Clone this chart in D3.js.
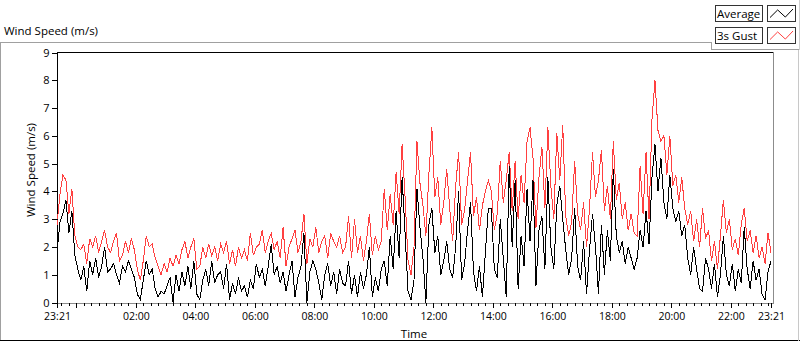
<!DOCTYPE html>
<html><head><meta charset="utf-8">
<script src="https://cdn.jsdelivr.net/npm/d3@7"></script>
<style>
html,body{margin:0;padding:0;background:#fff;}
svg{display:block;}
text{font-family:"Open Sans",sans-serif;fill:#000;}
</style></head><body>
<svg id="chart" width="800" height="342"></svg>
<script>
const chartTitle = "Wind Speed (m/s)";
const yAxisTitle = "Wind Speed (m/s)";
const xAxisTitle = "Time";
const seriesNames = ["Average", "3s Gust"];
const seriesColors = ["#000000", "#ff4040"];
const stepMinutes = 6;
const yTicks = [0,1,2,3,4,5,6,7,8,9];
const xTickLabels = ["23:21","02:00","04:00","06:00","08:00","10:00","12:00","14:00","16:00","18:00","20:00","22:00","23:21"];

const avgSpeed = [
1.8,2.9,3.2,3.7,2.5,3.3,1.7,1.2,0.8,1.3, 0.4,1.5,1.0,1.6,0.9,1.3,2.0,1.1,1.2,1.4,
1.0,0.7,1.3,1.1,1.5,1.2,0.9,0.3,0.1,0.8, 1.5,1.0,1.2,0.5,0.2,0.4,0.3,0.6,0.9,0.0,
1.0,0.4,1.1,0.6,1.3,0.5,1.5,0.3,
0.1,0.8,1.2,0.6,1.5,0.7,1.0,1.1,0.5,1.4, 0.1,0.7,0.3,0.9,0.4,0.6,0.2,0.8,0.5,1.4,
0.9,1.2,0.6,1.3,2.1,1.0,1.3,0.7,1.1,0.4, 1.0,1.5,0.2,0.9,1.3,2.5,0.0,1.1,1.5,1.2,
0.7,0.1,1.0,1.4,0.6,1.1,0.3,1.2,0.7,
0.6,1.5,0.3,1.0,0.2,1.1,0.5,1.0,2.0,0.2, 0.9,0.4,1.2,1.5,0.6,2.4,1.2,3.3,1.6,4.5,
2.5,0.4,0.1,0.8,4.1,2.7,1.6,0.0,2.8,3.4, 1.8,2.4,1.0,1.5,2.2,1.2,0.9,2.0,4.0,0.8,
1.4,2.6,3.6,1.1,0.4,1.3,0.2,1.8,3.4,
3.4,1.2,0.9,3.0,1.6,0.2,4.9,2.0,4.4,0.5, 2.4,1.3,4.1,2.2,4.4,0.6,2.6,3.1,1.2,4.5,
2.0,1.2,3.5,4.2,3.0,1.9,1.0,1.6,3.4,1.3, 0.8,2.2,0.3,1.9,3.2,2.0,0.3,2.8,1.0,2.6,
1.5,4.8,2.4,1.8,2.2,1.4,2.0,1.6,1.2,
1.6,2.6,2.0,3.3,2.1,4.5,5.7,4.0,5.2,3.6, 3.0,4.6,3.4,2.9,3.3,2.4,2.8,1.6,1.0,2.0,
1.2,0.5,0.4,1.6,1.2,0.5,1.4,0.2,1.0,2.4, 1.0,0.6,1.4,0.4,1.2,0.7,2.7,1.2,0.5,1.5,
0.8,1.2,0.3,0.1,1.1,1.5
];

const gustSpeed = [
2.8,3.9,4.6,4.4,3.2,4.1,2.4,2.0,1.9,2.1, 1.4,2.3,2.0,2.4,1.8,2.2,2.6,2.0,1.8,2.2,
2.5,1.5,1.7,2.2,1.8,2.3,1.9,1.2,0.8,1.5, 2.4,2.0,2.1,1.6,1.3,1.0,1.4,1.1,1.6,1.3,
1.7,1.4,1.9,2.2,1.6,2.0,2.3,1.2,
1.3,2.0,1.6,2.1,1.7,2.0,1.5,2.1,1.8,2.2, 1.4,1.9,1.3,2.0,1.6,1.9,1.5,2.5,1.7,2.0,
2.1,2.6,1.8,2.2,2.5,1.9,2.2,1.6,2.7,1.3, 2.0,2.3,2.6,1.8,2.2,3.2,1.4,2.3,2.0,2.7,
1.8,2.2,2.4,1.6,2.5,2.2,2.0,2.4,1.8,
2.0,3.1,1.6,3.0,1.8,2.4,1.5,2.2,3.2,1.7, 2.4,1.9,2.2,4.1,2.6,3.9,2.8,4.7,3.2,5.7,
3.8,1.5,1.0,2.0,5.8,4.3,3.5,2.4,4.6,6.3, 3.8,4.5,2.8,3.6,4.8,3.4,2.2,4.2,5.4,2.8,
3.3,4.4,5.4,3.1,3.8,2.6,3.5,4.0,4.4,
4.0,2.6,3.2,5.1,3.6,4.4,5.4,3.3,5.1,3.0, 4.6,3.6,5.8,6.3,5.2,2.7,4.5,5.6,3.4,6.3,
4.2,3.0,6.1,4.4,6.4,3.1,2.4,2.9,5.1,3.2, 2.6,3.6,2.0,3.4,5.4,3.8,4.4,5.5,3.3,4.2,
3.0,5.8,3.7,4.3,3.0,3.6,2.6,3.2,2.5,
2.4,4.9,3.2,5.4,3.0,6.6,8.0,6.2,5.8,6.0, 4.6,6.0,4.2,4.6,3.6,4.5,3.4,2.8,3.3,2.2,
3.0,2.0,3.4,2.3,2.6,1.5,2.2,1.2,2.4,3.7, 2.5,3.0,1.9,2.3,1.7,2.8,3.4,2.2,2.6,1.8,
2.4,1.6,2.0,1.4,2.5,1.8
];

const svg = d3.select("#chart");
const start = new Date(2000, 0, 1, 23, 21);
const end = d3.timeMinute.offset(start, 24 * 60);
const times = avgSpeed.map((d, i) => d3.timeMinute.offset(start, i * stepMinutes));

const x = d3.scaleTime().domain([start, end]).range([57, 771]);
const y = d3.scaleLinear().domain([0, 9]).range([302.5, 52.5]);

// Outer frame
const frame = svg.append("g").attr("shape-rendering", "crispEdges");
frame.append("line").attr("x1", 0).attr("x2", 712).attr("y1", 42.5).attr("y2", 42.5).attr("stroke", "#a0a0a0");
frame.append("line").attr("x1", 0.5).attr("x2", 0.5).attr("y1", 42).attr("y2", 341).attr("stroke", "#a0a0a0");
frame.append("line").attr("x1", 0).attr("x2", 800).attr("y1", 340.5).attr("y2", 340.5).attr("stroke", "#000");
frame.append("line").attr("x1", 798.5).attr("x2", 798.5).attr("y1", 49).attr("y2", 341).attr("stroke", "#c8c8c8");

// Title
svg.append("text").attr("x", 4).attr("y", 35).attr("font-size", "11.5px").text(chartTitle);

// Plot frame
const pf = svg.append("g").attr("shape-rendering", "crispEdges");
pf.append("line").attr("x1", 57).attr("x2", 773).attr("y1", 52.5).attr("y2", 52.5).attr("stroke", "#000");
pf.append("line").attr("x1", 57.5).attr("x2", 57.5).attr("y1", 52).attr("y2", 304).attr("stroke", "#000");
pf.append("line").attr("x1", 57).attr("x2", 774).attr("y1", 303.5).attr("y2", 303.5).attr("stroke", "#8c8c8c");
pf.append("line").attr("x1", 773.5).attr("x2", 773.5).attr("y1", 52).attr("y2", 304).attr("stroke", "#8c8c8c");

// Lines
const line = d3.line().x((d, i) => x(times[i])).y(d => y(d));
const plot = svg.append("g");
plot.append("path").datum(gustSpeed).attr("d", line).attr("fill", "none")
  .attr("stroke", seriesColors[1]).attr("stroke-width", 1).attr("shape-rendering", "crispEdges");
plot.append("path").datum(avgSpeed).attr("d", line).attr("fill", "none")
  .attr("stroke", seriesColors[0]).attr("stroke-width", 1).attr("shape-rendering", "crispEdges");

// Y axis
const yAxis = svg.append("g").attr("transform", "translate(57.5,0)")
  .call(d3.axisLeft(y).tickValues(yTicks).tickSize(6).tickPadding(2).tickFormat(d3.format("d")));
yAxis.select(".domain").remove();
yAxis.selectAll("line").attr("stroke", "#000").attr("shape-rendering", "crispEdges");
yAxis.selectAll("text").attr("font-size", "11px").attr("font-family", "Open Sans, sans-serif").attr("fill", "#000");

// X axis
const majorDates = xTickLabels.map((l, i) => {
  if (i === 0) return start;
  if (i === xTickLabels.length - 1) return end;
  return new Date(2000, 0, 2, +l.slice(0, 2), +l.slice(3, 5));
});
const minorDates = d3.timeMinute.every(15).range(start, end);
const extraMajor = [new Date(2000, 0, 2, 0, 0)];

const xMinor = svg.append("g").attr("transform", "translate(0,303)")
  .call(d3.axisBottom(x).tickValues(minorDates).tickSize(3).tickFormat(""));
xMinor.select(".domain").remove();
xMinor.selectAll("line").attr("stroke", "#000").attr("shape-rendering", "crispEdges");

const xExtra = svg.append("g").attr("transform", "translate(0,303)")
  .call(d3.axisBottom(x).tickValues(extraMajor).tickSize(5).tickFormat(""));
xExtra.select(".domain").remove();
xExtra.selectAll("line").attr("stroke", "#000").attr("shape-rendering", "crispEdges");

const xAxis = svg.append("g").attr("transform", "translate(0,303)")
  .call(d3.axisBottom(x).tickValues(majorDates).tickSize(5).tickFormat((d, i) => xTickLabels[i]));
xAxis.select(".domain").remove();
xAxis.selectAll("line").attr("stroke", "#000").attr("shape-rendering", "crispEdges");
xAxis.selectAll("text").attr("font-size", "10.5px").attr("font-family", "Open Sans, sans-serif")
  .attr("fill", "#000").attr("y", 10);

// Axis titles
svg.append("text").attr("x", 414).attr("y", 338).attr("text-anchor", "middle")
  .attr("font-size", "11.5px").text(xAxisTitle);
svg.append("text").attr("transform", "translate(35,170) rotate(-90)").attr("text-anchor", "middle")
  .attr("font-size", "11.5px").text(yAxisTitle);

// Legend
const lg = svg.append("g");
lg.append("rect").attr("x", 712).attr("y", 0).attr("width", 88).attr("height", 49)
  .attr("fill", "#fff");
const lgEdge = lg.append("g").attr("shape-rendering", "crispEdges").attr("stroke", "#a0a0a0");
lgEdge.append("line").attr("x1", 711.5).attr("x2", 711.5).attr("y1", 42).attr("y2", 50);
lgEdge.append("line").attr("x1", 711).attr("x2", 800).attr("y1", 49.5).attr("y2", 49.5);
lgEdge.append("line").attr("x1", 799.5).attr("x2", 799.5).attr("y1", 0).attr("y2", 50).attr("stroke", "#d0d0d0");
const rowsY = [5, 27];
seriesNames.forEach((name, i) => {
  const yy = rowsY[i];
  lg.append("rect").attr("x", 715.5).attr("y", yy + 0.5).attr("width", 47).attr("height", 16)
    .attr("fill", "#fff").attr("stroke", "#333").attr("shape-rendering", "crispEdges");
  lg.append("text").attr("x", 717).attr("y", yy + 12.5).attr("font-size", "11.5px").text(name);
  lg.append("rect").attr("x", 767.5).attr("y", yy + 0.5).attr("width", 28).attr("height", 16)
    .attr("fill", "#fff").attr("stroke", "#333").attr("shape-rendering", "crispEdges");
  const gx = d3.scaleLinear().domain([0, 3]).range([770, 793]);
  const gy = d3.scaleLinear().domain([0, 1]).range([yy + 13.5, yy + 4]);
  const glyph = [0.1, 0.9, 0.15, 1.0];
  lg.append("path").datum(glyph)
    .attr("d", d3.line().x((d, k) => gx(k)).y(d => gy(d)))
    .attr("fill", "none").attr("stroke", seriesColors[i]).attr("stroke-width", 1);
});
</script>
</body></html>
